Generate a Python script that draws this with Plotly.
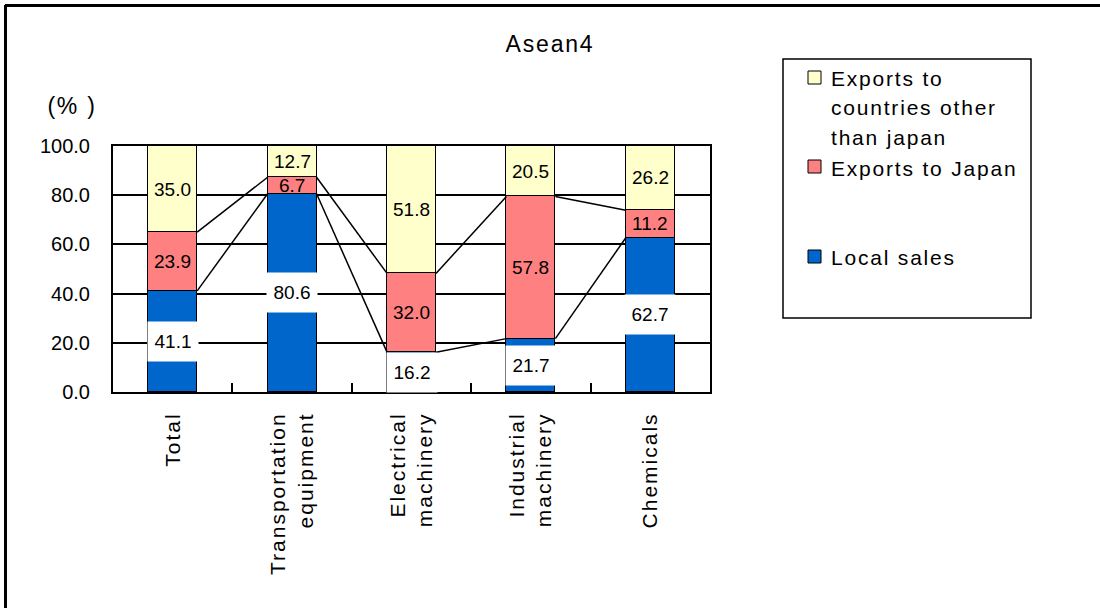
import plotly.graph_objects as go
import json

# ---------------- data ----------------
categories = ["Total", "Transportation<br>equipment", "Electrical<br>machinery",
              "Industrial<br>machinery", "Chemicals"]
series_names = ["Local sales", "Exports to Japan", "Exports to countries other than japan"]
local_sales = [41.1, 80.6, 16.2, 21.7, 62.7]
exports_japan = [23.9, 6.7, 32.0, 57.8, 11.2]
exports_other = [35.0, 12.7, 51.8, 20.5, 26.2]
y_ticks = [0, 20, 40, 60, 80, 100]
colors = ["#0066CC", "#FF8080", "#FFFFCC"]
title_text = "Asean4"
unit_text = "(% )"
legend_lines = {
    "Exports to countries other than japan": ["Exports to", "countries other", "than japan"],
    "Exports to Japan": ["Exports to Japan"],
    "Local sales": ["Local sales"],
}

# ---------------- layout geometry ----------------
W, H = 1100, 608
ML, MR, MT, MB = 113, 390, 146, 216
PW = W - ML - MR
PH = H - MT - MB
FONT = "Liberation Sans, Arial, sans-serif"


def px(x):
    return (x - ML) / PW


def py(y):
    return (H - MB - y) / PH


BAR_W = 0.41
xpos = list(range(len(categories)))

fig = go.Figure()
series_vals = [local_sales, exports_japan, exports_other]
for name, vals, col in zip(series_names, series_vals, colors):
    fig.add_trace(go.Bar(
        x=xpos, y=vals, name=name, width=BAR_W,
        marker=dict(color=col, line=dict(color="black", width=1.5)),
        showlegend=False, hoverinfo="skip"))

# series lines joining the segment tops
lvl1 = local_sales
lvl2 = [a + b for a, b in zip(local_sales, exports_japan)]
for lv in (lvl1, lvl2):
    xs, ys = [], []
    for i in range(len(xpos) - 1):
        xs += [xpos[i] + BAR_W / 2, xpos[i + 1] - BAR_W / 2, None]
        ys += [lv[i], lv[i + 1], None]
    fig.add_trace(go.Scatter(x=xs, y=ys, mode="lines",
                             line=dict(color="black", width=1.5),
                             showlegend=False, hoverinfo="skip"))

annotations = []
LBL = dict(family=FONT, size=19, color="black")
for i in xpos:
    l, j, o = local_sales[i], exports_japan[i], exports_other[i]
    annotations.append(dict(x=i, y=l / 2, xref="x", yref="y", text=f"{l:.1f}",
                            showarrow=False, bgcolor="white", width=48, height=37,
                            borderpad=1, font=LBL))
    annotations.append(dict(x=i, y=l + j / 2, xref="x", yref="y", text=f"{j:.1f}",
                            showarrow=False, font=LBL))
    annotations.append(dict(x=i, y=l + j + o / 2, xref="x", yref="y", text=f"{o:.1f}",
                            showarrow=False, font=LBL))

annotations.append(dict(x=px(550), y=py(44), xref="paper", yref="paper", text=title_text,
                        showarrow=False, xanchor="center", yanchor="middle",
                        font=dict(family=FONT, size=23, color="black")))
annotations.append(dict(x=px(72), y=py(106), xref="paper", yref="paper", text=unit_text,
                        showarrow=False, xanchor="center", yanchor="middle",
                        font=dict(family=FONT, size=23, color="black")))

shapes = []
shapes.append(dict(type="rect", xref="paper", yref="paper", x0=px(783), x1=px(1031),
                   y0=py(59), y1=py(318), line=dict(color="black", width=1.5),
                   fillcolor="white"))
legend_order = [series_names[2], series_names[1], series_names[0]]
legend_colors = [colors[2], colors[1], colors[0]]
square_tops = [71, 160, 250]
text_rows = [[78, 108, 137], [168], [257]]
spaced_texts = [title_text, unit_text]
for name, col, st, rows in zip(legend_order, legend_colors, square_tops, text_rows):
    shapes.append(dict(type="rect", xref="paper", yref="paper", x0=px(808), x1=px(821),
                       y0=py(st), y1=py(st + 13), line=dict(color="black", width=1),
                       fillcolor=col))
    for line_text, ry in zip(legend_lines[name], rows):
        spaced_texts.append(line_text)
        annotations.append(dict(x=px(829), y=py(ry), xref="paper", yref="paper",
                                text=line_text, showarrow=False, xanchor="left",
                                align="left", yanchor="middle",
                                font=dict(family=FONT, size=21, color="black")))

# outer frame (top and left edges)
shapes.append(dict(type="line", xref="paper", yref="paper", x0=px(5), x1=px(1110),
                   y0=py(5.5), y1=py(5.5), line=dict(color="black", width=3)))
shapes.append(dict(type="line", xref="paper", yref="paper", x0=px(5.5), x1=px(5.5),
                   y0=py(5), y1=py(620), line=dict(color="black", width=3)))

fig.update_layout(
    width=W, height=H,
    margin=dict(l=ML, r=MR, t=MT, b=MB, pad=0),
    barmode="stack", bargap=0,
    paper_bgcolor="white", plot_bgcolor="white",
    font=dict(family=FONT, color="black"),
    annotations=annotations, shapes=shapes,
    showlegend=False,
)
fig.update_xaxes(
    range=[-0.5, len(categories) - 0.5], tickmode="array", tickvals=xpos,
    ticktext=categories, tickangle=-90, showgrid=False, zeroline=False,
    showline=True, linecolor="black", linewidth=2, mirror=True, ticks="",
    tickfont=dict(family=FONT, size=21, color="black"), ticklabelstandoff=10,
    minor=dict(tickmode="array", tickvals=[i + 0.5 for i in xpos[:-1]], ticks="inside",
               ticklen=9, tickwidth=1.5, tickcolor="black", showgrid=False),
)
fig.update_yaxes(
    range=[0, 100], tickmode="array", tickvals=y_ticks, tickformat=".1f",
    showgrid=True, gridcolor="black", gridwidth=1.5, zeroline=False,
    showline=True, linecolor="black", linewidth=2, mirror=True, ticks="",
    tickfont=dict(family=FONT, size=20, color="black"), ticklabelstandoff=17,
)

# wider letter spacing, as in the original spreadsheet rendering
post_js = """
var gd = document.getElementById('{plot_id}');
var spaced = SPACED_LIST;
function applyLS(){
  gd.querySelectorAll('.xtick text').forEach(function(t){ t.style.letterSpacing = '2px'; });
  gd.querySelectorAll('.annotation-text').forEach(function(t){
    if (spaced.indexOf(t.textContent) >= 0) { t.style.letterSpacing = '1.8px'; }
  });
}
applyLS();
""".replace("SPACED_LIST", json.dumps(spaced_texts))

fig.write_html("out.html", post_script=post_js)
